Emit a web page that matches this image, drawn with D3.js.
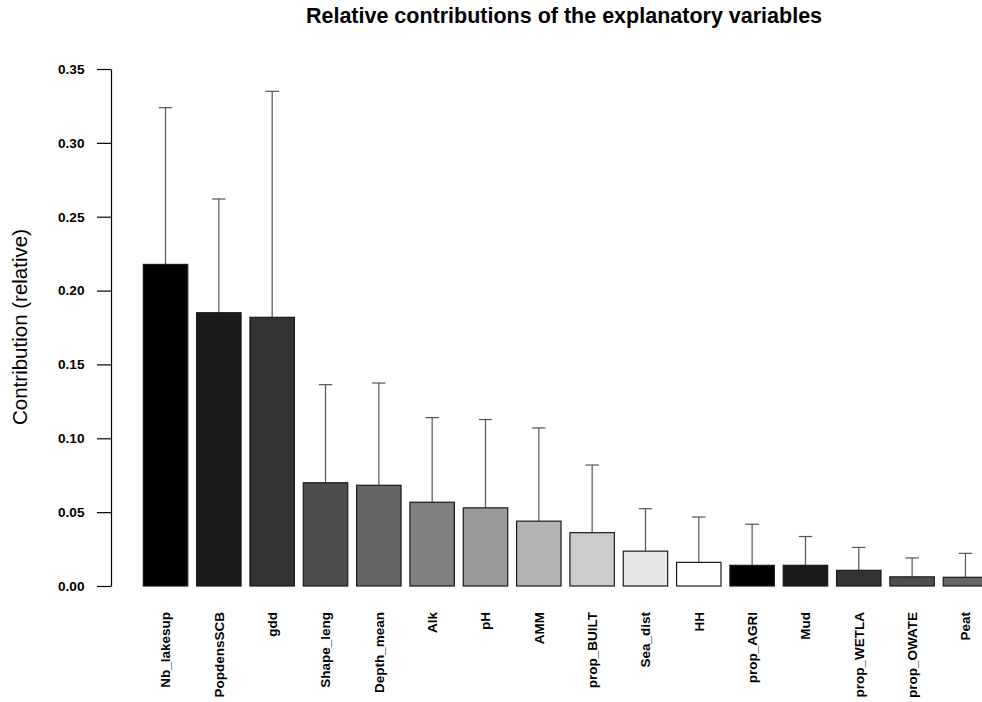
<!DOCTYPE html>
<html>
<head>
<meta charset="utf-8">
<script src="https://cdn.jsdelivr.net/npm/d3@7"></script>
<style>
  html, body { margin: 0; padding: 0; background: #fff; }
  svg { display: block; font-family: "Liberation Sans", Arial, sans-serif; }
</style>
</head>
<body>
<svg id="chart" width="982" height="702"></svg>
<script>
// Explanatory variables, in order of decreasing contribution
const variables = ["Nb_lakesup", "PopdensSCB", "gdd", "Shape_leng", "Depth_mean", "Alk", "pH", "AMM",
  "prop_BUILT", "Sea_dist", "HH", "prop_AGRI", "Mud", "prop_WETLA", "prop_OWATE", "Peat"];
// Mean relative contribution of each variable
const contribution = [0.2177, 0.1850, 0.1819, 0.0699, 0.0682, 0.0567, 0.0529, 0.0439,
  0.0361, 0.0236, 0.0160, 0.0140, 0.0140, 0.0106, 0.0062, 0.0059];
// Upper end of the error bar for each variable
const upper = [0.3238, 0.2620, 0.3349, 0.1363, 0.1374, 0.1140, 0.1127, 0.1070,
  0.0819, 0.0523, 0.0467, 0.0418, 0.0335, 0.0261, 0.0190, 0.0221];
// Grey palette, recycled along the bars
const greys = ["#000000", "#1a1a1a", "#333333", "#4d4d4d", "#666666", "#808080",
  "#999999", "#b3b3b3", "#cccccc", "#e6e6e6", "#ffffff"];
const yTicks = [0, 0.05, 0.10, 0.15, 0.20, 0.25, 0.30, 0.35];
const titleText = "Relative contributions of the explanatory variables";
const yLabel = "Contribution (relative)";

const svg = d3.select("#chart");

// Bars occupy one unit each with 0.2-unit gaps (barplot layout)
const space = 0.2, barW = 1;
const lefts = variables.map((_, i) => space + i * (barW + space));
const x = d3.scaleLinear().domain([space, space + variables.length * (barW + space) - space])
  .range([143.3, 143.3 + 19 * 44.44]);
const y = d3.scaleLinear().domain([0, 0.35]).range([586, 69]);

// Error bars (upper only)
const errG = svg.append("g").attr("stroke", "#555").attr("stroke-width", 1.2);
variables.forEach((v, i) => {
  const cx = x(lefts[i] + barW / 2);
  errG.append("line").attr("x1", cx).attr("x2", cx)
    .attr("y1", y(contribution[i])).attr("y2", y(upper[i]));
  errG.append("line").attr("x1", cx - 6.7).attr("x2", cx + 6.7)
    .attr("y1", y(upper[i])).attr("y2", y(upper[i]));
});

// Bars
svg.append("g").selectAll("rect").data(variables).join("rect")
  .attr("x", (d, i) => x(lefts[i]))
  .attr("width", (d, i) => x(lefts[i] + barW) - x(lefts[i]))
  .attr("y", (d, i) => y(contribution[i]))
  .attr("height", (d, i) => y(0) - y(contribution[i]))
  .attr("fill", (d, i) => greys[i % greys.length])
  .attr("stroke", "#1a1a1a")
  .attr("stroke-width", 1.2);

// Y axis
const yAxis = d3.axisLeft(y).tickValues(yTicks).tickFormat(d3.format(".2f"))
  .tickSize(14).tickSizeOuter(0).tickPadding(12.5);
const yg = svg.append("g").attr("transform", "translate(111,0)").call(yAxis);
yg.selectAll("path, line").attr("stroke", "#000").attr("stroke-width", 1.2);
yg.selectAll("text").attr("font-size", 13.6).attr("font-weight", "bold")
  .attr("fill", "#000").attr("font-family", "'Liberation Sans', Arial, sans-serif");

// Category labels, rotated
svg.append("g").selectAll("text").data(variables).join("text")
  .attr("transform", (d, i) => `translate(${x(lefts[i] + barW / 2)},612) rotate(-90)`)
  .attr("text-anchor", "end")
  .attr("dy", "0.36em")
  .attr("font-size", 13.5)
  .attr("font-weight", "bold")
  .attr("fill", "#000")
  .text(d => d);

// Title
svg.append("text").attr("x", 564).attr("y", 23).attr("text-anchor", "middle")
  .attr("font-size", 21.5).attr("font-weight", "bold").attr("fill", "#000")
  .text(titleText);

// Y axis title
svg.append("text").attr("transform", "translate(27,327) rotate(-90)")
  .attr("text-anchor", "middle").attr("font-size", 20.5).attr("fill", "#000")
  .text(yLabel);
</script>
</body>
</html>
